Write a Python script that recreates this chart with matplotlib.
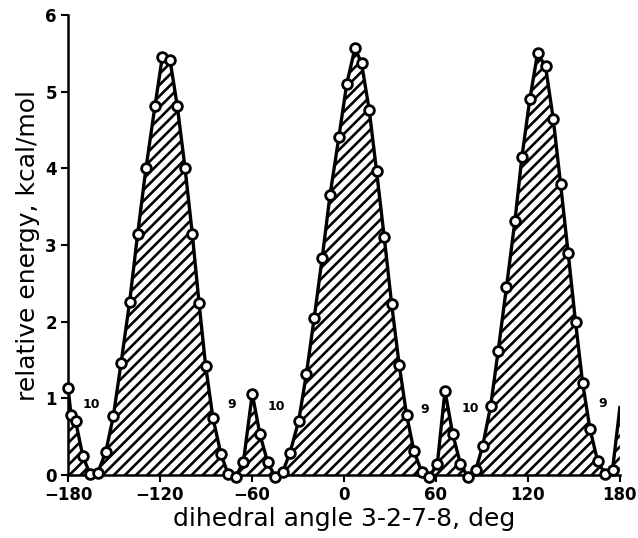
import matplotlib
matplotlib.use("Agg")
import matplotlib.pyplot as plt
import numpy as np

# dihedral angle (deg) and relative energy (kcal/mol)
angle = [-180, -178, -175, -170.4, -165.6, -160.6, -155.4, -150.4, -145.4,
         -139.8, -134.6, -129.1, -123.3, -118.5, -113.5, -108.7, -103.7, -98.9,
         -94.5, -90.2, -85.5, -80.2, -75.5, -70.5, -65.6, -59.8, -54.8, -49.8,
         -45.0, -40.0, -35.2, -29.5, -24.5, -19.4, -14.2, -9.1, -3.3, 1.8, 7.2,
         11.5, 16.5, 21.3, 26.3, 31.1, 36.1, 40.9, 45.7, 50.7, 55.6, 60.9,
         65.9, 70.9, 75.9, 80.7, 85.9, 90.5, 95.7, 100.6, 106.0, 111.5, 116.1,
         121.3, 126.3, 131.5, 136.5, 141.3, 146.3, 151.1, 155.7, 160.5, 165.5,
         170.2, 175.2]
energy = [1.14, 0.78, 0.70, 0.25, 0.01, 0.03, 0.30, 0.77, 1.46,
          2.26, 3.14, 4.01, 4.81, 5.45, 5.42, 4.81, 4.01, 3.14,
          2.24, 1.42, 0.75, 0.27, 0.01, -0.02, 0.17, 1.06, 0.53, 0.17,
          -0.02, 0.04, 0.29, 0.71, 1.32, 2.05, 2.83, 3.65, 4.41, 5.10, 5.57,
          5.37, 4.76, 3.96, 3.10, 2.23, 1.43, 0.78, 0.31, 0.04, -0.02, 0.14,
          1.10, 0.54, 0.15, -0.02, 0.06, 0.38, 0.90, 1.62, 2.45, 3.31, 4.15,
          4.91, 5.50, 5.33, 4.65, 3.80, 2.89, 1.99, 1.20, 0.60, 0.18,
          0.02, 0.07]
# curve continues up to the right edge (no computed point there)
end_angle = 180
end_energy = 0.88

# conformer labels
lab_text = ["10", "9", "10", "9", "10", "9"]
lab_x = [-165, -73, -44, 52.5, 82.5, 169]
lab_y = [0.92, 0.92, 0.90, 0.86, 0.87, 0.93]

plt.rcParams['hatch.linewidth'] = 1.9
plt.rcParams['font.family'] = ['DejaVu Sans']

fig = plt.figure(figsize=(6.38, 5.38), dpi=100)
ax = fig.add_axes([0.1066, 0.117, 0.865, 0.855])

cx = np.array(angle + [end_angle])
cy = np.array(energy + [end_energy])

ax.fill_between(cx, 0, cy, facecolor='white', edgecolor='black',
                hatch='///', linewidth=0)
ax.plot(cx, cy, color='black', lw=2.4, solid_joinstyle='round', zorder=3)
ax.plot(angle, energy, ls='none', marker='o', ms=7, mfc='white', mec='black',
        mew=2.0, zorder=4, clip_on=False)

for t, x, y in zip(lab_text, lab_x, lab_y):
    ax.text(x, y, t, ha='center', va='center', fontsize=9, fontweight='bold')

ax.set_xlim(-180, 180)
ax.set_ylim(0, 6)
ax.set_xticks([-180, -120, -60, 0, 60, 120, 180])
ax.set_xticklabels(['\u2212180', '\u2212120', '\u221260', '0', '60', '120', '180'])
ax.set_yticks([0, 1, 2, 3, 4, 5, 6])

for s in ['top', 'right']:
    ax.spines[s].set_visible(False)
for s in ['left', 'bottom']:
    ax.spines[s].set_linewidth(1.8)
ax.tick_params(direction='out', length=5, width=1.5, labelsize=12, pad=3)
for lbl in ax.get_xticklabels() + ax.get_yticklabels():
    lbl.set_fontweight('bold')

ax.set_xlabel('dihedral angle 3-2-7-8, deg', fontsize=18, labelpad=2)
ax.set_ylabel('relative energy, kcal/mol', fontsize=18, labelpad=4)

fig.savefig('out.png', dpi=100)
